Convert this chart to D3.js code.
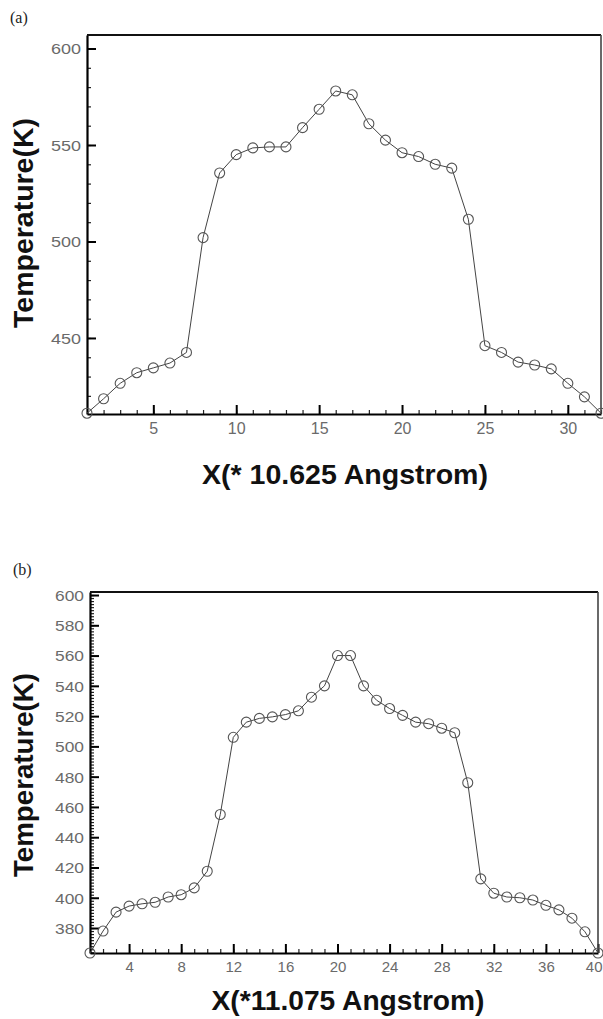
<!DOCTYPE html>
<html><head><meta charset="utf-8">
<script src="https://cdn.jsdelivr.net/npm/d3@7"></script>
<style>body{margin:0;background:#fff}svg{display:block}</style>
</head><body><svg id="c" width="603" height="1019"></svg>
<script>
// ---- data (a) ----
const xA = d3.range(1, 33);
const tempA = [411, 418.5, 426.5, 432, 434.5, 437, 442.5, 502, 535.5, 545, 548.5, 549, 549, 559, 568.5, 578,
               576, 561, 552.5, 546, 544, 540, 538, 511.5, 446, 442.5, 437.5, 436, 434, 426.5, 419.5, 411];
const xTicksA = [5, 10, 15, 20, 25, 30];
const yTicksA = [450, 500, 550, 600];
// ---- data (b) ----
const xB = d3.range(1, 41);
const tempB = [363.5, 378, 390.5, 394.5, 396, 397, 400.5, 402, 406.5, 417.5, 455, 506, 516, 518.5, 519.5, 521,
               523.5, 532.5, 540, 560, 560, 540, 530.5, 525, 520.5, 516, 515, 512, 509, 476, 412.5, 403,
               400.5, 400, 398.5, 395, 392, 386.5, 377.5, 363.5];
const xTicksB = [4, 8, 12, 16, 20, 24, 28, 32, 36, 40];
const yTicksB = [380, 400, 420, 440, 460, 480, 500, 520, 540, 560, 580, 600];

const svg = d3.select("#c");

function panel(cfg) {
  const g = svg.append("g");
  const x = d3.scaleLinear().domain(cfg.xDom).range([cfg.left, cfg.right]);
  const y = d3.scaleLinear().domain(cfg.yDom).range([cfg.bottom, cfg.top]);

  // minor ticks
  g.append("g").attr("transform", `translate(${cfg.left},0)`)
    .call(d3.axisLeft(y).tickValues(cfg.yMinor).tickSize(-4).tickFormat("").tickSizeOuter(0))
    .call(s => s.select(".domain").remove())
    .call(s => s.selectAll("line").attr("stroke", "#222").attr("stroke-width", 1.2));
  g.append("g").attr("transform", `translate(0,${cfg.bottom})`)
    .call(d3.axisBottom(x).tickValues(cfg.xMinor).tickSize(-4).tickFormat("").tickSizeOuter(0))
    .call(s => s.select(".domain").remove())
    .call(s => s.selectAll("line").attr("stroke", "#222").attr("stroke-width", 1.2));

  // major axes
  const ya = g.append("g").attr("transform", `translate(${cfg.left},0)`)
    .call(d3.axisLeft(y).tickValues(cfg.yTicks).tickSize(-9).tickPadding(6).tickSizeOuter(0));
  ya.select(".domain").attr("stroke", "#000").attr("stroke-width", 2.2);
  ya.selectAll("line").attr("stroke", "#000").attr("stroke-width", 2);
  ya.selectAll("text").attr("font-family", "Liberation Sans, Arial, sans-serif")
    .attr("font-size", cfg.yFont).attr("fill", "#6a6a6a").attr("textLength", cfg.yLen)
    .attr("lengthAdjust", "spacingAndGlyphs").attr("dy", "0.36em");

  const xa = g.append("g").attr("transform", `translate(0,${cfg.bottom})`)
    .call(d3.axisBottom(x).tickValues(cfg.xTicks).tickSize(-9).tickPadding(cfg.xPad).tickSizeOuter(0));
  xa.select(".domain").attr("stroke", "#000").attr("stroke-width", 2.2);
  xa.selectAll("line").attr("stroke", "#000").attr("stroke-width", 2);
  xa.selectAll("text").attr("font-family", "Liberation Sans, Arial, sans-serif")
    .attr("font-size", cfg.xFont).attr("fill", "#6a6a6a");
  // keep a label that sits on the right frame inside the page
  xa.selectAll("text").filter(d => x(d) > 596).attr("text-anchor", "end").attr("dx", 4);

  // top and right border
  g.append("line").attr("x1", cfg.left).attr("x2", cfg.right).attr("y1", cfg.top).attr("y2", cfg.top)
    .attr("stroke", "#111").attr("stroke-width", 2.2);
  g.append("line").attr("x1", cfg.right).attr("x2", cfg.right).attr("y1", cfg.top).attr("y2", cfg.bottom)
    .attr("stroke", "#444").attr("stroke-width", 1.6);

  // data line and markers
  const pts = cfg.xs.map((d, i) => [d, cfg.ys[i]]);
  g.append("path").datum(pts)
    .attr("d", d3.line().x(d => x(d[0])).y(d => y(d[1])))
    .attr("fill", "none").attr("stroke", "#444").attr("stroke-width", 1);
  g.selectAll("circle.m").data(pts).enter().append("circle")
    .attr("cx", d => x(d[0])).attr("cy", d => y(d[1])).attr("r", 5)
    .attr("fill", "none").attr("stroke", "#555").attr("stroke-width", 1.1);

  // axis titles
  g.append("text").attr("x", cfg.xLabX).attr("y", cfg.xLabY).attr("text-anchor", "middle")
    .attr("font-family", "Liberation Sans, Arial, sans-serif").attr("font-weight", "bold")
    .attr("font-size", 28).attr("fill", "#111")
    .attr("textLength", cfg.xLabLen).attr("lengthAdjust", "spacingAndGlyphs").text(cfg.xLabel);
  g.append("text").attr("transform", `translate(33,${cfg.yLabY}) rotate(-90)`).attr("text-anchor", "middle")
    .attr("font-family", "Liberation Sans, Arial, sans-serif").attr("font-weight", "bold")
    .attr("font-size", 28).attr("fill", "#111")
    .attr("textLength", cfg.yLabLen).attr("lengthAdjust", "spacingAndGlyphs").text("Temperature(K)");

  g.append("text").attr("x", cfg.tagX).attr("y", cfg.tagY)
    .attr("font-family", "Liberation Serif, Times New Roman, serif").attr("font-size", 16)
    .attr("fill", "#222").text(cfg.tag);
}

panel({
  xs: xA, ys: tempA, xDom: [1, 32], yDom: [410.6, 607],
  left: 87, right: 601, top: 35, bottom: 414,
  xTicks: xTicksA, yTicks: yTicksA,
  xMinor: d3.range(2, 33), yMinor: d3.range(420, 601, 10),
  yFont: 15, yLen: 30, xFont: 16, xPad: 9,
  xLabel: "X(* 10.625 Angstrom)", xLabX: 345, xLabY: 484, xLabLen: 286,
  yLabY: 223, yLabLen: 210, tag: "(a)", tagX: 10, tagY: 23
});

panel({
  xs: xB, ys: tempB, xDom: [1, 40], yDom: [363.5, 602],
  left: 90, right: 598, top: 592, bottom: 953,
  xTicks: xTicksB, yTicks: yTicksB,
  xMinor: d3.range(2, 41), yMinor: d3.range(364, 601, 2),
  yFont: 15, yLen: 29, xFont: 15, xPad: 8,
  xLabel: "X(*11.075 Angstrom)", xLabX: 348, xLabY: 1010, xLabLen: 273,
  yLabY: 775, yLabLen: 204, tag: "(b)", tagX: 13, tagY: 575
});
</script></body></html>
